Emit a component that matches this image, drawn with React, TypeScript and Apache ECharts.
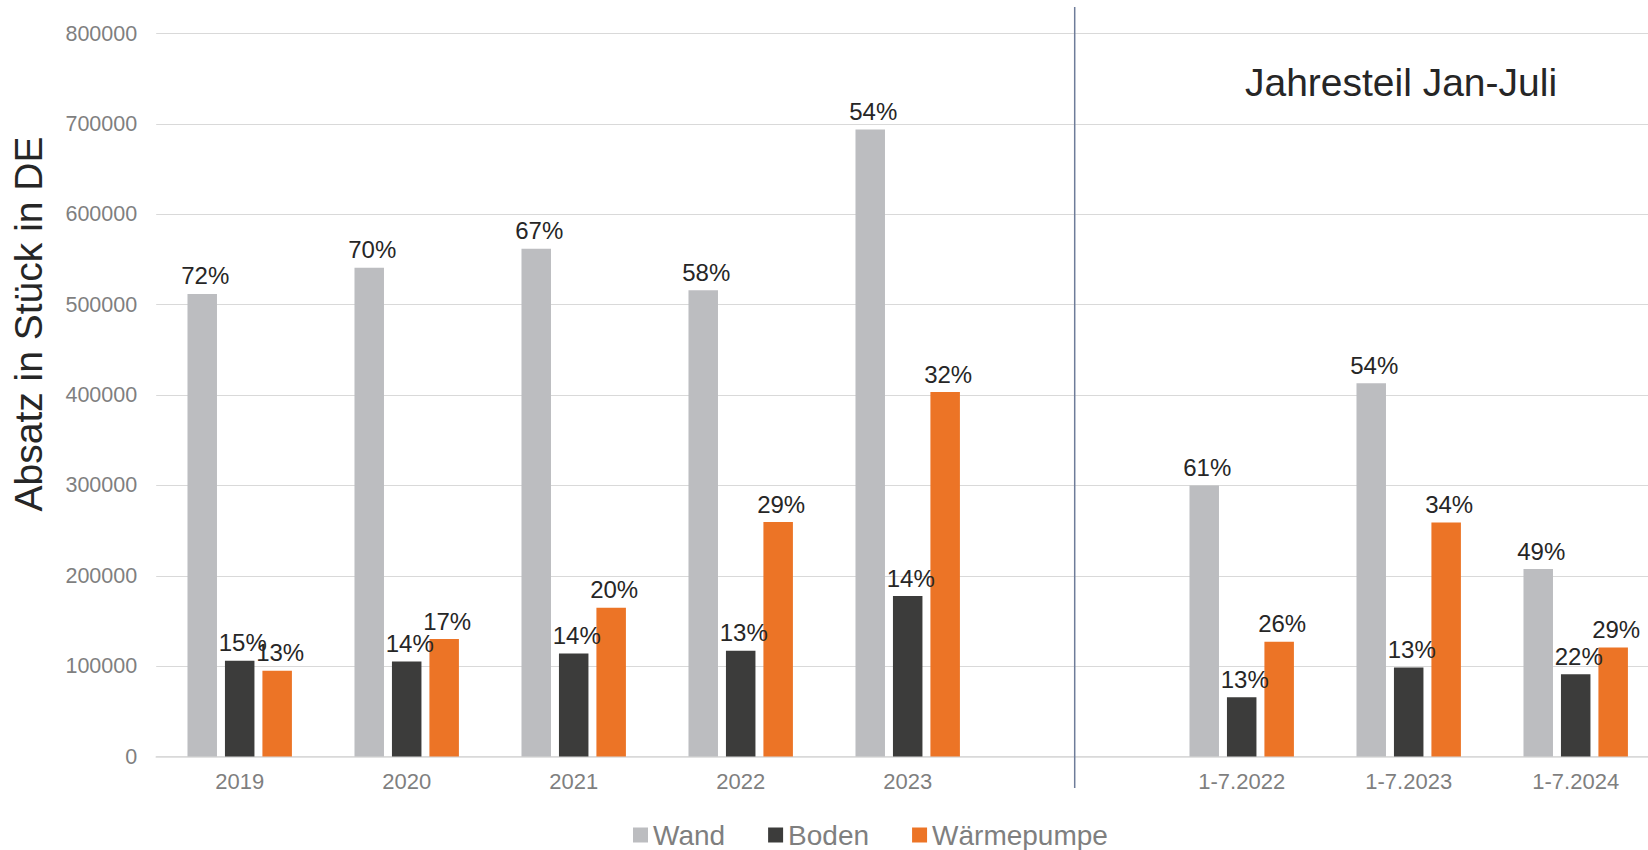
import React, { useEffect, useRef } from "react";
import * as echarts from "echarts";

const categories = ["2019", "2020", "2021", "2022", "2023", "", "1-7.2022", "1-7.2023", "1-7.2024"];
const wand = [512000, 541000, 562000, 516000, 694000, null, 300000, 413000, 207500];
const boden = [106000, 105300, 114200, 117100, 177700, null, 65800, 98500, 91200];
const waermepumpe = [95000, 130000, 164600, 259500, 403300, null, 127000, 259000, 120700];
const wandPct = ["72%", "70%", "67%", "58%", "54%", "", "61%", "54%", "49%"];
const bodenPct = ["15%", "14%", "14%", "13%", "14%", "", "13%", "13%", "22%"];
const wpPct = ["13%", "17%", "20%", "29%", "32%", "", "26%", "34%", "29%"];
const seriesNames = ["Wand", "Boden", "Wärmepumpe"];
const separatorIndex = 5;
const yTitle = "Absatz in Stück in DE";
const sectionTitle = "Jahresteil Jan-Juli";

const FONT = "'Liberation Sans', Arial, Helvetica, sans-serif";

export default function App() {
  const ref = useRef<HTMLDivElement>(null);
  useEffect(() => {
    if (!ref.current) return;
    const chart = echarts.init(ref.current, null, { renderer: "svg" });
    const label = (pcts: string[]) => ({
      show: true,
      position: "top",
      distance: 6,
      offset: [3, 0],
      fontSize: 24,
      fontFamily: FONT,
      color: "#262626",
      formatter: (p: any) => pcts[p.dataIndex] || "",
    });
    const option: any = {
      animation: false,
      textStyle: { fontFamily: FONT },
      grid: {
        left: 156.2,
        right: -11.2,
        top: 33.6,
        bottom: 93.4,
        containLabel: false,
        outerBoundsMode: "none",
      },
      legend: {
        data: seriesNames,
        left: 628,
        top: 816,
        icon: "rect",
        itemWidth: 15,
        itemHeight: 15,
        itemGap: 43,
        textStyle: { fontSize: 28, color: "#7f7f7f", fontFamily: FONT },
      },
      xAxis: {
        type: "category",
        data: categories,
        axisLine: { show: true, lineStyle: { color: "#d9d9d9", width: 1.5 } },
        axisTick: { show: false },
        axisLabel: { fontSize: 22, color: "#7f7f7f", margin: 14, fontFamily: FONT, interval: 0 },
        splitLine: { show: false },
      },
      yAxis: {
        type: "value",
        min: 0,
        max: 800000,
        interval: 100000,
        axisLine: { show: false },
        axisTick: { show: false },
        axisLabel: {
          fontSize: 21.5,
          color: "#7f7f7f",
          margin: 19,
          fontFamily: FONT,
          formatter: (v: number) => String(v),
        },
        splitLine: { lineStyle: { color: "#d9d9d9", width: 1.2 } },
      },
      series: [
        {
          name: seriesNames[0],
          type: "bar",
          data: wand,
          barWidth: 29.5,
          barGap: "27%",
          itemStyle: { color: "#bcbdc0" },
          label: label(wandPct),
        },
        {
          name: seriesNames[1],
          type: "bar",
          data: boden,
          barWidth: 29.5,
          barGap: "27%",
          itemStyle: { color: "#3c3c3b" },
          label: label(bodenPct),
        },
        {
          name: seriesNames[2],
          type: "bar",
          data: waermepumpe,
          barWidth: 29.5,
          barGap: "27%",
          itemStyle: { color: "#ec7426" },
          label: label(wpPct),
        },
      ],
    };
    chart.setOption(option);
    const sepX = chart.convertToPixel({ xAxisIndex: 0 }, separatorIndex) as number;
    chart.setOption({
      graphic: [
        {
          type: "line",
          shape: { x1: sepX, y1: 7, x2: sepX, y2: 788 },
          style: { stroke: "#6e7c99", lineWidth: 1.5 },
          z: 10,
        },
        {
          type: "text",
          x: 28,
          y: 324,
          rotation: Math.PI / 2,
          style: {
            text: yTitle,
            fontSize: 39,
            fontFamily: FONT,
            fill: "#262626",
            textAlign: "center",
            textVerticalAlign: "middle",
            align: "center",
            verticalAlign: "middle",
          },
        },
        {
          type: "text",
          x: 1401,
          y: 82,
          style: {
            text: sectionTitle,
            fontSize: 39,
            fontFamily: FONT,
            fill: "#262626",
            textAlign: "center",
            textVerticalAlign: "middle",
            align: "center",
            verticalAlign: "middle",
          },
        },
      ],
    });
    return () => chart.dispose();
  }, []);
  return (
    <div
      ref={ref}
      style={{ position: "fixed", left: 0, top: 0, width: 1648, height: 850, background: "#fff" }}
    />
  );
}
